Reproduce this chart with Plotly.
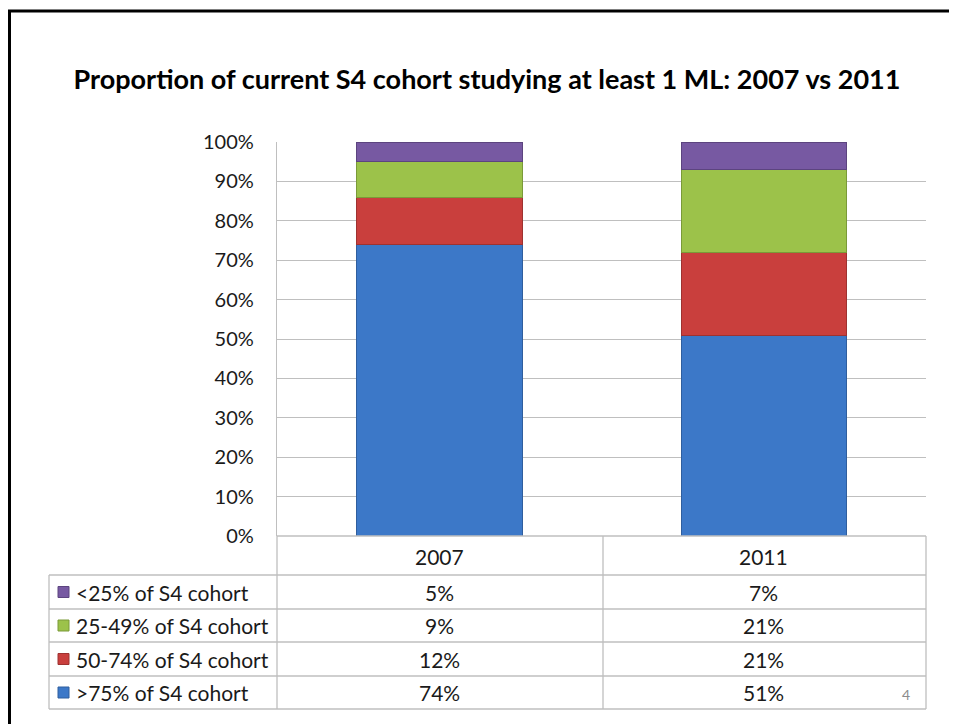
import plotly.graph_objects as go

# ---------------- data ----------------
years = ["2007", "2011"]
series_names = [">75% of S4 cohort", "50-74% of S4 cohort", "25-49% of S4 cohort", "<25% of S4 cohort"]
gt75 = [74, 51]
p50_74 = [12, 21]
p25_49 = [9, 21]
lt25 = [5, 7]
y_ticks = [0, 10, 20, 30, 40, 50, 60, 70, 80, 90, 100]
title_text = "Proportion of current S4 cohort studying at least 1 ML: 2007 vs 2011"
page_number = "4"

series_values = [gt75, p50_74, p25_49, lt25]
fill_colors = ["#3C78C8", "#C93F3D", "#9CC24A", "#7759A2"]
line_colors = ["#2F5E9E", "#9E3230", "#7A9A38", "#5C447F"]

FONT = "Lato, 'Open Sans', sans-serif"
GRID = "#BFBFBF"
TXT = "#1a1a1a"

# the page body has an 8px default margin: work in screen coords, offset by 8
OFF = 8
W, H = 957 - OFF, 724 - OFF
X0, X1, Y0, Y1 = 277, 926, 142, 536  # plot area in screen coords
L, R, T, B = X0 - OFF, W - (X1 - OFF), Y0 - OFF, H - (Y1 - OFF)
PW, PH = X1 - X0, Y1 - Y0


def px(x):
    return (x - X0) / PW


def py(y):
    return (Y1 - y) / PH


fig = go.Figure()
for name, vals, fc, lc in zip(series_names, series_values, fill_colors, line_colors):
    fig.add_trace(go.Bar(
        x=years, y=vals, name=name,
        marker=dict(color=fc, line=dict(color=lc, width=1)),
        width=0.51, showlegend=False, hoverinfo="skip",
    ))

shapes = []
# outer frame (black)
shapes.append(dict(type="line", xref="paper", yref="paper", x0=px(9.5), x1=px(9.5), y0=py(10), y1=py(760),
                   line=dict(color="black", width=3)))
shapes.append(dict(type="line", xref="paper", yref="paper", x0=px(8), x1=px(990), y0=py(11), y1=py(11),
                   line=dict(color="black", width=3)))

# data table grid
row_lines = [575, 609, 642, 676, 709]
for yy in row_lines:
    shapes.append(dict(type="line", xref="paper", yref="paper", x0=px(49), x1=px(926), y0=py(yy), y1=py(yy),
                       line=dict(color=GRID, width=1.3)))
shapes.append(dict(type="line", xref="paper", yref="paper", x0=px(277), x1=px(926), y0=py(536), y1=py(536),
                   line=dict(color=GRID, width=1.3)))
for xx, ytop in [(49, 575), (277, 536), (603, 536), (926, 536)]:
    shapes.append(dict(type="line", xref="paper", yref="paper", x0=px(xx), x1=px(xx), y0=py(ytop), y1=py(709),
                       line=dict(color=GRID, width=1.3)))

annotations = []
# header row
for i, yr in enumerate(years):
    annotations.append(dict(x=i, xref="x", y=py(556), yref="paper", text=yr, showarrow=False,
                            xanchor="center", yanchor="middle", font=dict(family=FONT, size=21, color=TXT)))

# rows (top to bottom = reverse stacking order)
row_centers = [592, 625.5, 659, 692.5]
for rc, name, vals, fc, lc in zip(row_centers, series_names[::-1], series_values[::-1],
                                  fill_colors[::-1], line_colors[::-1]):
    shapes.append(dict(type="rect", xref="paper", yref="paper", x0=px(58), x1=px(69), y0=py(rc - 5.5),
                       y1=py(rc + 5.5), fillcolor=fc, line=dict(color=lc, width=1)))
    annotations.append(dict(x=px(74), xref="paper", y=py(rc), yref="paper", text=name, showarrow=False,
                            xanchor="left", yanchor="middle", font=dict(family=FONT, size=21, color=TXT)))
    for i, v in enumerate(vals):
        annotations.append(dict(x=i, xref="x", y=py(rc), yref="paper", text=f"{v}%", showarrow=False,
                                xanchor="center", yanchor="middle",
                                font=dict(family=FONT, size=21, color=TXT)))

annotations.append(dict(x=px(912), xref="paper", y=py(694), yref="paper", text=page_number, showarrow=False,
                        xanchor="right", yanchor="middle", font=dict(family=FONT, size=14, color="#8C8C8C")))

fig.update_layout(
    width=W, height=H,
    margin=dict(l=L, r=R, t=T, b=B),
    barmode="stack",
    paper_bgcolor="white", plot_bgcolor="white",
    title=dict(text=f"<b>{title_text}</b>", x=(487 - OFF) / W, xanchor="center", xref="container",
               y=1 - (80 - OFF) / H, yanchor="middle", yref="container",
               font=dict(family=FONT, size=27, color="black")),
    shapes=shapes,
    annotations=annotations,
    showlegend=False,
)
fig.update_xaxes(type="category", showticklabels=False, showgrid=False, zeroline=False, showline=False,
                 ticks="", range=[-0.5, 1.5])
fig.update_yaxes(range=[0, 100], tickvals=y_ticks, ticktext=[f"{t}%" for t in y_ticks],
                 showgrid=True, gridcolor=GRID, gridwidth=1.3, zeroline=False,
                 showline=True, linecolor=GRID, linewidth=1.3, ticks="",
                 ticklabelstandoff=18,
                 tickfont=dict(family=FONT, size=20, color=TXT))

fig.write_html("out.html")
